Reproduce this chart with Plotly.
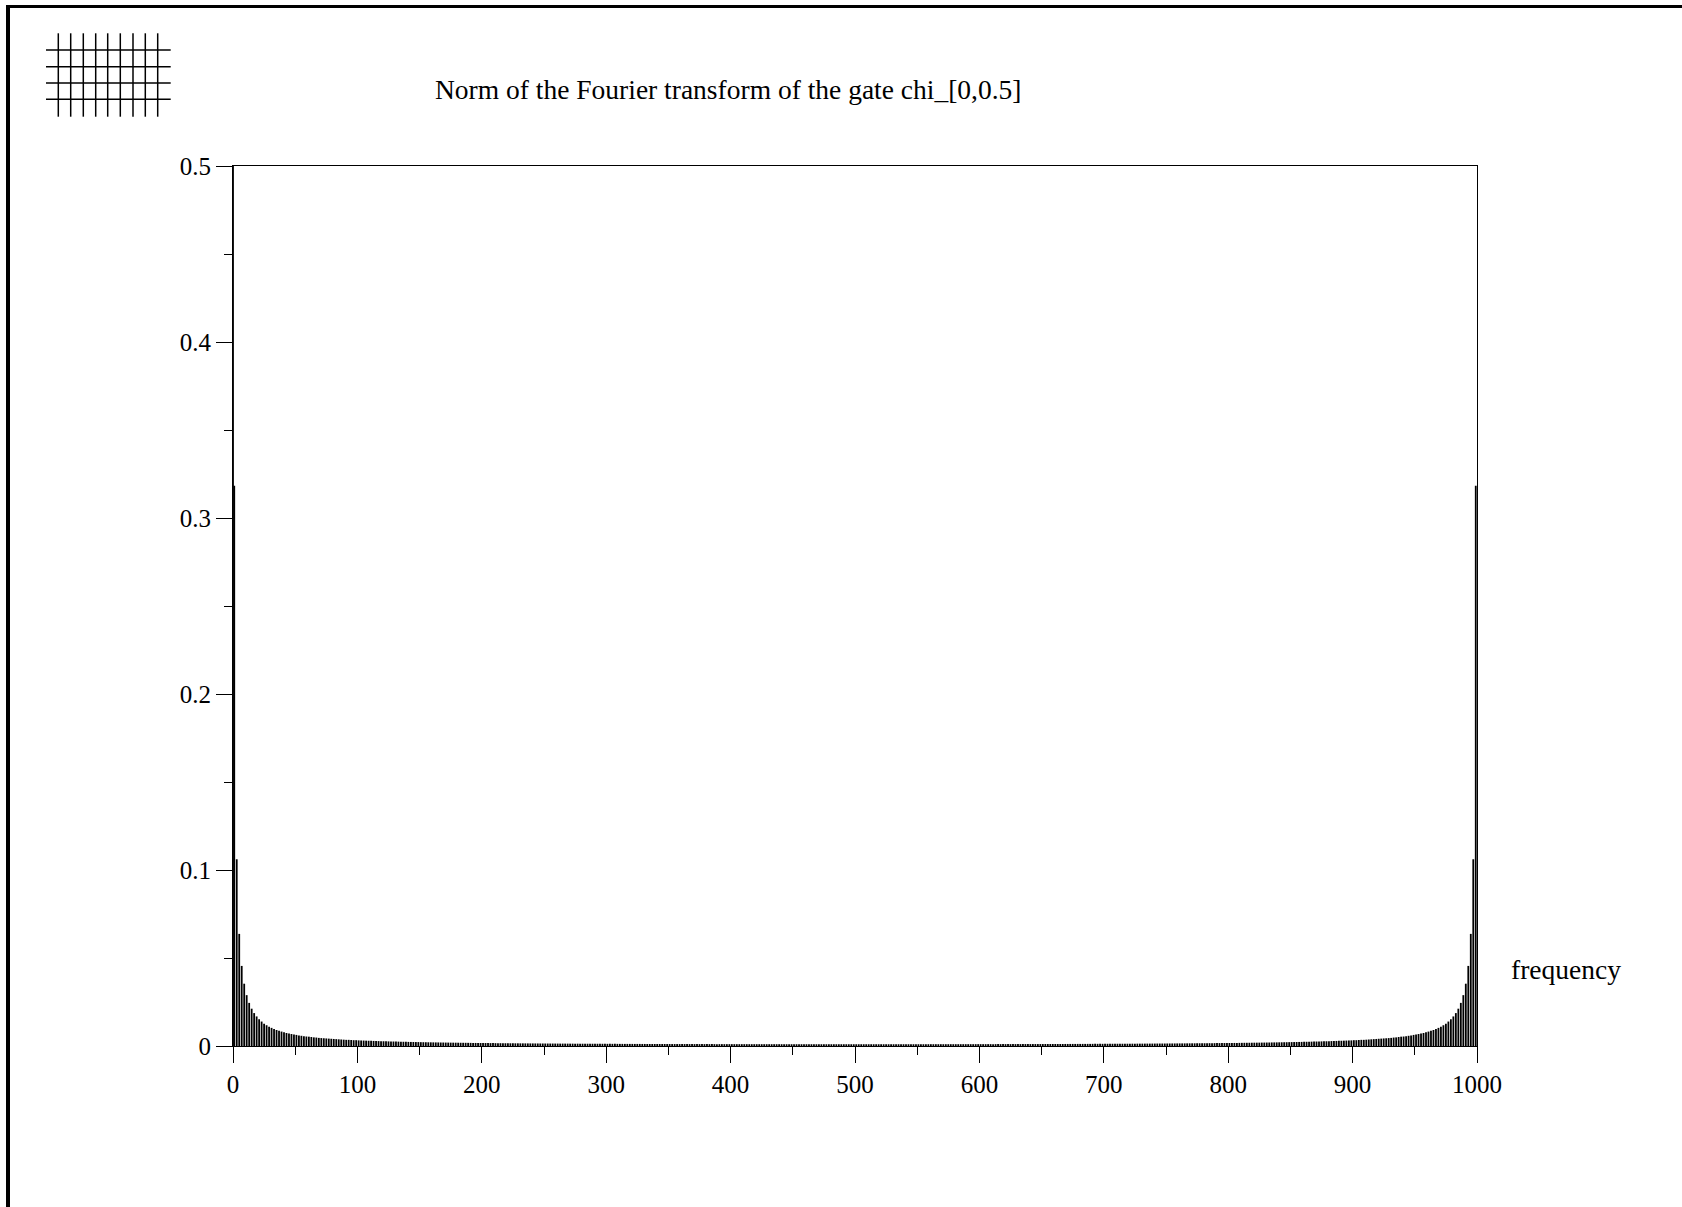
import plotly.graph_objects as go

# Spectrum magnitude |FFT| of the gate chi_[0,0.5] sampled on 1000 bins.
# Bin 0 carries the mean value, even bins are zero, odd bins decay away from
# both ends of the spectrum (the spectrum is symmetric: bin k == bin 1000-k).
N_BINS = 1000
dc_value = 0.5

# heights of odd bins 1, 3, 5, ..., 499
odd_bin_heights = [
    0.3183, 0.1061, 0.0637, 0.0455, 0.0354, 0.0289, 0.0245, 0.0212, 0.0187, 0.0168,
    0.0152, 0.0139, 0.0127, 0.0118, 0.0110, 0.0103, 0.0097, 0.0091, 0.0086, 0.0082,
    0.0078, 0.0074, 0.0071, 0.0068, 0.0065, 0.0063, 0.0060, 0.0058, 0.0056, 0.0054,
    0.0053, 0.0051, 0.0049, 0.0048, 0.0046, 0.0045, 0.0044, 0.0043, 0.0042, 0.0041,
    0.0040, 0.0039, 0.0038, 0.0037, 0.0036, 0.0035, 0.0035, 0.0034, 0.0033, 0.0033,
    0.00320, 0.00314, 0.00309, 0.00303, 0.00298, 0.00293, 0.00288, 0.00284, 0.00279, 0.00275,
    0.00270, 0.00266, 0.00262, 0.00259, 0.00255, 0.00250, 0.00247, 0.00244, 0.00240, 0.00237,
    0.00233, 0.00230, 0.00227, 0.00225, 0.00222, 0.00219, 0.00216, 0.00214, 0.00211, 0.00209,
    0.00206, 0.00204, 0.00202, 0.00199, 0.00197, 0.00195, 0.00193, 0.00191, 0.00189, 0.00188,
    0.00186, 0.00184, 0.00182, 0.00181, 0.00179, 0.00177, 0.00176, 0.00174, 0.00173, 0.00171,
    0.00169, 0.00168, 0.00166, 0.00165, 0.00164, 0.00162, 0.00161, 0.00160, 0.00158, 0.00157,
    0.00156, 0.00155, 0.00154, 0.00153, 0.00152, 0.00151, 0.00150, 0.00149, 0.00148, 0.00147,
    0.00146, 0.00145, 0.00144, 0.00143, 0.00142, 0.00141, 0.00140, 0.00140, 0.00139, 0.00138,
    0.00137, 0.00136, 0.00136, 0.00135, 0.00134, 0.00133, 0.00133, 0.00132, 0.00131, 0.00130,
    0.00129, 0.00129, 0.00128, 0.00128, 0.00127, 0.00126, 0.00126, 0.00125, 0.00125, 0.00124,
    0.00123, 0.00123, 0.00122, 0.00122, 0.00121, 0.00120, 0.00120, 0.00119, 0.00119, 0.00118,
    0.00118, 0.00117, 0.00117, 0.00117, 0.00116, 0.00116, 0.00115, 0.00115, 0.00114, 0.00114,
    0.00114, 0.00113, 0.00113, 0.00113, 0.00112, 0.00112, 0.00111, 0.00111, 0.00111, 0.00110,
    0.00110, 0.00110, 0.00109, 0.00109, 0.00109, 0.00108, 0.00108, 0.00108, 0.00108, 0.00107,
    0.00107, 0.00107, 0.00107, 0.00106, 0.00106, 0.00106, 0.00106, 0.00105, 0.00105, 0.00105,
    0.00105, 0.00105, 0.00104, 0.00104, 0.00104, 0.00104, 0.00104, 0.00103, 0.00103, 0.00103,
    0.00103, 0.00103, 0.00103, 0.00102, 0.00102, 0.00102, 0.00102, 0.00102, 0.00102, 0.00102,
    0.00102, 0.00101, 0.00101, 0.00101, 0.00101, 0.00101, 0.00101, 0.00101, 0.00101, 0.00101,
    0.00101, 0.00101, 0.00101, 0.00100, 0.00100, 0.00100, 0.00100, 0.00100, 0.00100, 0.00100,
    0.00100, 0.00100, 0.00100, 0.00100, 0.00100, 0.00100, 0.00100, 0.00100, 0.00100, 0.00100,
]

x_tick_values = list(range(0, 1001, 100))
x_tick_labels = [str(v) for v in x_tick_values]
y_tick_values = [0, 0.1, 0.2, 0.3, 0.4, 0.5]
y_tick_labels = ["0", "0.1", "0.2", "0.3", "0.4", "0.5"]

title_text = "Norm of the Fourier transform of the gate chi_[0,0.5]"
x_label_text = "frequency"

# ---- assemble bins (frequency, magnitude) ----
freqs = [0]
mags = [dc_value]
for i, h in enumerate(odd_bin_heights):
    k = 2 * i + 1
    freqs.append(k)
    mags.append(h)
    freqs.append(N_BINS - k)
    mags.append(h)

# vertical stems from 0 up to each magnitude
stem_x, stem_y = [], []
for f, m in zip(freqs, mags):
    stem_x += [f, f, None]
    stem_y += [0, m, None]

# ---- page geometry (pixels) ----
W, H = 1682, 1207
L, R, T, B = 233, 1477, 166, 1046
pw, ph = R - L, B - T


def px(xp):
    return (xp - L) / pw


def py(yp):
    return (B - yp) / ph


fig = go.Figure()
fig.add_trace(go.Scatter(
    x=stem_x, y=stem_y, mode="lines",
    line=dict(color="black", width=1.8),
    hoverinfo="skip", showlegend=False,
))

SERIF = "Liberation Serif"

fig.update_layout(
    width=W, height=H,
    margin=dict(l=L, r=W - R, t=T, b=H - B, pad=0),
    paper_bgcolor="white", plot_bgcolor="white",
    font=dict(family=SERIF, size=25, color="black"),
    showlegend=False,
)

fig.update_xaxes(
    range=[0, 1000], showgrid=False, zeroline=False,
    showline=True, linecolor="black", linewidth=1, mirror=True,
    ticks="outside", ticklen=16, tickwidth=1, tickcolor="black",
    tickvals=x_tick_values, ticktext=x_tick_labels,
    minor=dict(ticks="outside", ticklen=8, tickwidth=1, tickcolor="black", dtick=50, tick0=0, showgrid=False),
    tickfont=dict(family=SERIF, size=25, color="black"),
)
fig.update_yaxes(
    range=[0, 0.5], showgrid=False, zeroline=False,
    showline=True, linecolor="black", linewidth=1, mirror=True,
    ticks="outside", ticklen=16, tickwidth=1, tickcolor="black",
    tickvals=y_tick_values, ticktext=y_tick_labels,
    minor=dict(ticks="outside", ticklen=8, tickwidth=1, tickcolor="black", dtick=0.05, tick0=0, showgrid=False),
    tickfont=dict(family=SERIF, size=25, color="black"),
)

# title and axis caption
fig.add_annotation(
    x=px(433), y=py(89), xref="paper", yref="paper",
    text=title_text, showarrow=False, xanchor="left", yanchor="middle",
    font=dict(family=SERIF, size=27.5, color="black"),
)
fig.add_annotation(
    x=px(1509), y=py(969), xref="paper", yref="paper",
    text=x_label_text, showarrow=False, xanchor="left", yanchor="middle",
    font=dict(family=SERIF, size=27.5, color="black"),
)

shapes = []
# window frame: heavy top and left edges
shapes.append(dict(type="rect", xref="paper", yref="paper",
                   x0=px(6), x1=px(W + 5), y0=py(8), y1=py(5),
                   fillcolor="black", line=dict(width=0)))
shapes.append(dict(type="rect", xref="paper", yref="paper",
                   x0=px(6), x1=px(10), y0=py(H + 5), y1=py(5),
                   fillcolor="black", line=dict(width=0)))

# small grid glyph in the top-left corner
grid_cols = [58.3, 70.7, 83.3, 95.7, 107.7, 120.3, 133.0, 145.3, 157.7]
grid_rows = [50.0, 66.7, 83.0, 99.3]
for gx in grid_cols:
    shapes.append(dict(type="line", xref="paper", yref="paper",
                       x0=px(gx), x1=px(gx), y0=py(33.3), y1=py(116.7),
                       line=dict(color="black", width=1.5)))
for gy in grid_rows:
    shapes.append(dict(type="line", xref="paper", yref="paper",
                       x0=px(46), x1=px(170.7), y0=py(gy), y1=py(gy),
                       line=dict(color="black", width=1.5)))
fig.update_layout(shapes=shapes)

fig.write_html("out.html")
